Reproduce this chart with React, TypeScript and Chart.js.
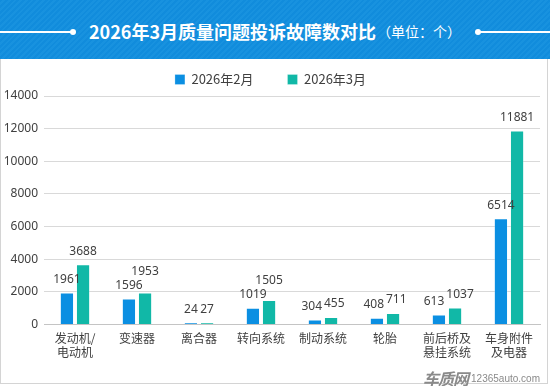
import React, { useEffect, useRef } from "react";
import { Chart, registerables } from "chart.js";

Chart.register(...registerables);

const categories: (string | string[])[] = [
  ["发动机/", "电动机"],
  "变速器",
  "离合器",
  "转向系统",
  "制动系统",
  "轮胎",
  ["前后桥及", "悬挂系统"],
  ["车身附件", "及电器"],
];
const seriesNames = ["2026年2月", "2026年3月"];
const feb = [1961, 1596, 24, 1019, 304, 408, 613, 6514];
const mar = [3688, 1953, 27, 1505, 455, 711, 1037, 11881];
const yTicks = [0, 2000, 4000, 6000, 8000, 10000, 12000, 14000];

const BLUE = "#0b8fe2";
const TEAL = "#11b8a7";
const CJK = '"Noto Sans CJK SC", "Noto Sans", sans-serif';
const NUM = '"Noto Sans", "Open Sans", sans-serif';

// value labels above bars, with a simple overlap-avoidance layout
const valueLabels = {
  id: "valueLabels",
  afterDatasetsDraw(chart: any) {
    const ctx = chart.ctx;
    ctx.save();
    ctx.font = `12px ${NUM}`;
    ctx.fillStyle = "#404040";
    ctx.textAlign = "center";
    ctx.textBaseline = "middle";
    const m0 = chart.getDatasetMeta(0);
    const m1 = chart.getDatasetMeta(1);
    const d0 = chart.data.datasets[0].data;
    const d1 = chart.data.datasets[1].data;
    for (let j = 0; j < d0.length; j++) {
      const b0 = m0.data[j];
      const b1 = m1.data[j];
      const t0 = String(d0[j]);
      const t1 = String(d1[j]);
      const w0 = ctx.measureText(t0).width;
      const w1 = ctx.measureText(t1).width;
      let x0 = b0.x;
      let x1 = b1.x;
      let y0 = b0.y - 13;
      let y1 = b1.y - 13;
      const hOverlap = (w0 + w1) / 2 + 2 - (x1 - x0);
      const vClose = Math.abs(y1 - y0) < 13;
      if (hOverlap > 0 && vClose) {
        if (hOverlap <= 11) {
          x0 -= hOverlap / 2;
          x1 += hOverlap / 2;
        } else {
          y1 = Math.min(y1, y0 - 14);
        }
      }
      ctx.fillText(t0, x0, y0);
      ctx.fillText(t1, x1, y1);
    }
    ctx.restore();
  },
};

function ChartView() {
  const ref = useRef<HTMLCanvasElement>(null);
  useEffect(() => {
    if (!ref.current) return;
    const chart = new Chart(ref.current, {
      type: "bar",
      data: {
        labels: categories,
        datasets: [
          {
            label: seriesNames[0],
            data: feb,
            backgroundColor: BLUE,
            borderColor: "rgba(255,255,255,0.25)",
            borderWidth: 1,
            minBarLength: 2,
            categoryPercentage: 0.52,
            barPercentage: 0.88,
          },
          {
            label: seriesNames[1],
            data: mar,
            backgroundColor: TEAL,
            borderColor: "rgba(255,255,255,0.25)",
            borderWidth: 1,
            minBarLength: 2,
            categoryPercentage: 0.52,
            barPercentage: 0.88,
          },
        ],
      },
      options: {
        animation: false,
        responsive: false,
        maintainAspectRatio: false,
        layout: { padding: { top: -20, right: 7, left: 0, bottom: 0 } },
        plugins: {
          legend: {
            position: "top",
            labels: {
              boxWidth: 10,
              boxHeight: 10,
              padding: 34,
              color: "#404040",
              font: { size: 13, family: CJK },
            },
          },
          tooltip: { enabled: false },
        },
        scales: {
          x: {
            grid: { display: false, drawTicks: false },
            border: { display: true, color: "#c4c4c4" },
            ticks: {
              color: "#404040",
              padding: 7,
              maxRotation: 0,
              autoSkip: false,
              font: { size: 12, family: CJK, lineHeight: 14 / 12 },
            },
            afterFit(scale: any) {
              scale.height = 58.5;
            },
          },
          y: {
            min: 0,
            max: 14000,
            afterBuildTicks(scale: any) {
              scale.ticks = yTicks.map((v) => ({ value: v }));
            },
            grid: {
              drawTicks: false,
              color: (c: any) => (c.tick && c.tick.value === 0 ? "#c4c4c4" : "#d9d9d9"),
            },
            border: { display: false },
            ticks: {
              color: "#404040",
              padding: 6,
              font: { size: 12, family: NUM },
              callback: (v: any) => String(v),
            },
            afterFit(scale: any) {
              scale.width = 43;
            },
          },
        },
      },
      plugins: [valueLabels],
    });
    return () => chart.destroy();
  }, []);
  return <canvas ref={ref} width={546} height={324} style={{ display: "block", width: 546, height: 324 }} />;
}

export default function App() {
  return (
    <div
      style={{
        position: "fixed",
        left: 0,
        top: 0,
        width: 550,
        height: 386,
        background: "#fff",
        overflow: "hidden",
        fontFamily: CJK,
      }}
    >
      <div
        style={{
          position: "absolute",
          left: 0,
          top: 0,
          width: 550,
          height: 59,
          background:
            "repeating-linear-gradient(135deg, #118cdc 0px, #118cdc 2px, #1892df 2px, #1892df 4px)",
        }}
      >
        <div style={{ position: "absolute", left: 0, top: 31, width: 72, height: 1.5, background: "#fff" }} />
        <div
          style={{
            position: "absolute",
            left: 70,
            top: 29,
            width: 6,
            height: 6,
            borderRadius: 3,
            background: "#fff",
          }}
        />
        <div
          style={{
            position: "absolute",
            left: 475,
            top: 29,
            width: 6,
            height: 6,
            borderRadius: 3,
            background: "#fff",
          }}
        />
        <div style={{ position: "absolute", left: 478, top: 31, width: 72, height: 1.5, background: "#fff" }} />
        <div
          style={{
            position: "absolute",
            left: 0,
            top: 0,
            width: 550,
            height: 62,
            display: "flex",
            alignItems: "center",
            justifyContent: "center",
            color: "#fff",
            whiteSpace: "nowrap",
          }}
        >
          <span style={{ fontSize: 18, fontWeight: 700 }}>2026年3月质量问题投诉故障数对比</span>
          <span style={{ fontSize: 14, marginLeft: 1 }}>（单位：个）</span>
        </div>
      </div>
      <div
        style={{
          position: "absolute",
          left: 0,
          top: 59,
          width: 548,
          height: 325,
          borderLeft: "1px solid #d4d4d4",
          borderRight: "1px solid #d4d4d4",
          borderBottom: "1px solid #d4d4d4",
          boxSizing: "border-box",
        }}
      >
        <ChartView />
      </div>
      <div
        style={{
          position: "absolute",
          left: 423,
          top: 366,
          display: "flex",
          alignItems: "center",
          color: "#8a8a8a",
          whiteSpace: "nowrap",
        }}
      >
        <span style={{ fontSize: 16, fontWeight: 700, fontStyle: "italic", letterSpacing: -1 }}>车质网</span>
        <span style={{ fontSize: 10, marginLeft: 3, fontFamily: "Arial, 'Liberation Sans', sans-serif" }}>12365auto.com</span>
      </div>
    </div>
  );
}
